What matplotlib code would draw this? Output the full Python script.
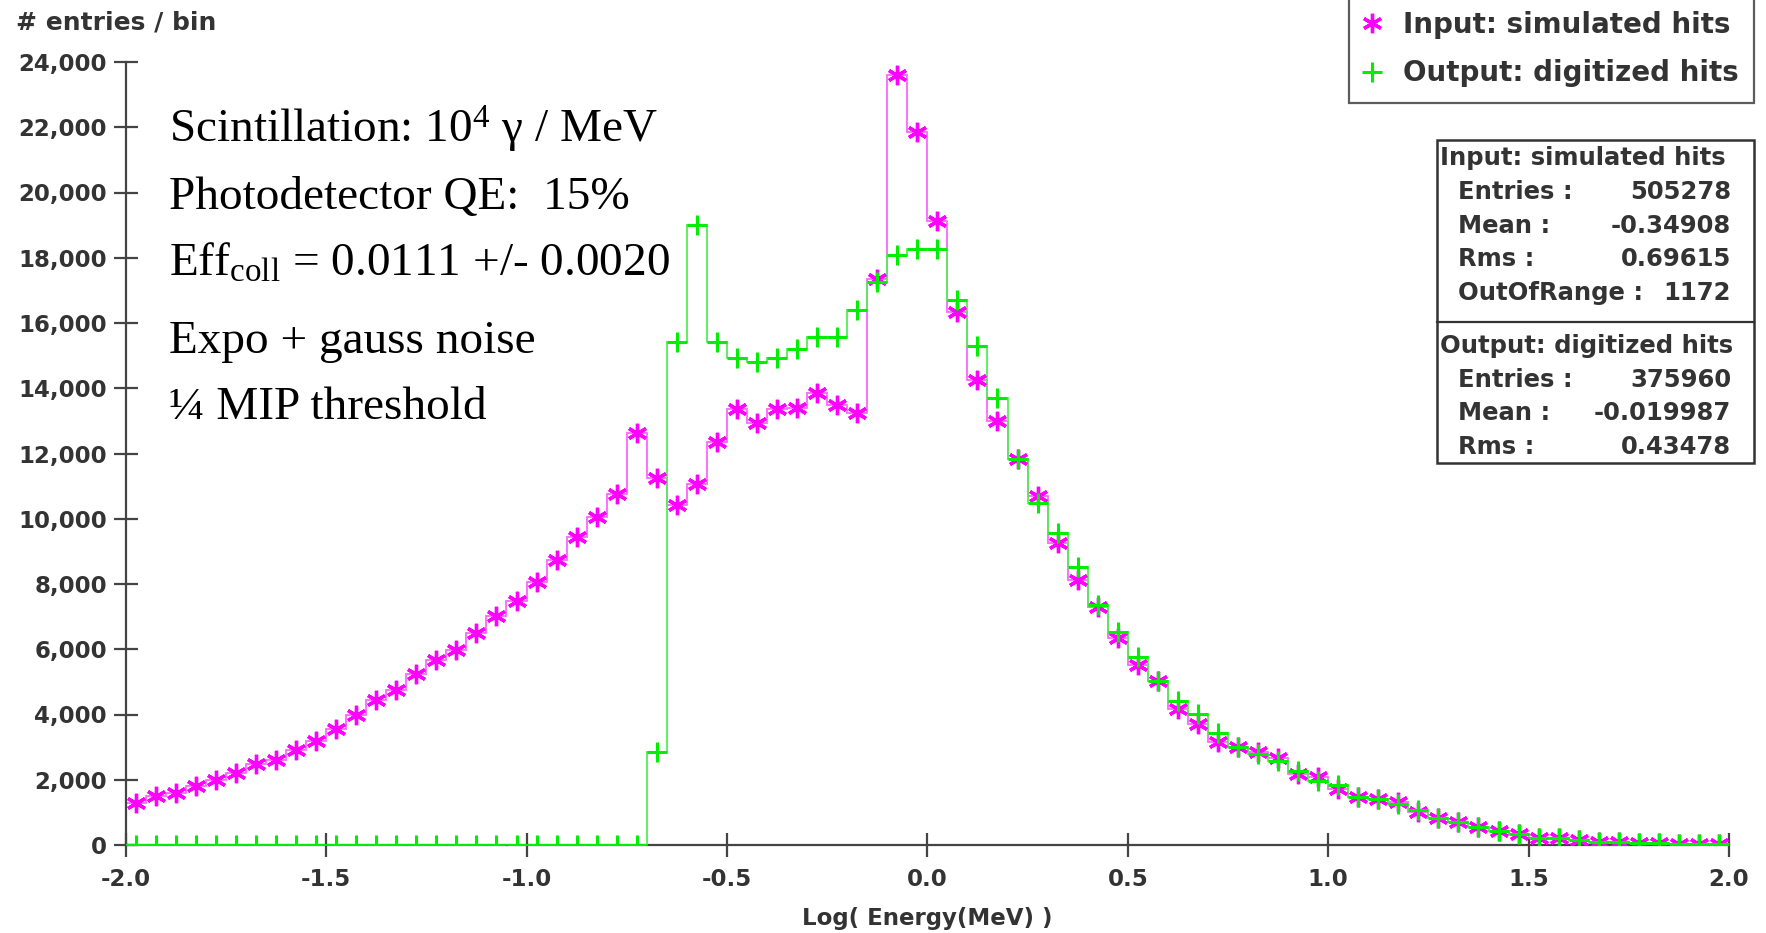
import matplotlib
matplotlib.use('Agg')
import matplotlib.pyplot as plt
from matplotlib.patches import Rectangle
import numpy as np

plt.rcParams['axes.unicode_minus'] = False
plt.rcParams['mathtext.fontset'] = 'custom'
plt.rcParams['mathtext.rm'] = 'Liberation Serif'
plt.rcParams['mathtext.it'] = 'Liberation Serif:italic'

# 80 bins of 0.05 in log10(E/MeV)
binEdges = np.linspace(-2.0, 2.0, 81)
binCenters = (binEdges[:-1] + binEdges[1:]) / 2

simulatedHits = [1300, 1500, 1600, 1800, 2000, 2220, 2480, 2620, 2900, 3200,
                 3550, 4000, 4450, 4760, 5250, 5680, 5970, 6500, 7020, 7480,
                 8050, 8740, 9440, 10050, 10770, 12640, 11250, 10410, 11050, 12360,
                 13350, 12920, 13350, 13400, 13850, 13480, 13250, 17350, 23590, 21850,
                 19130, 16330, 14250, 13000, 11820, 10690, 9250, 8120, 7300, 6360,
                 5510, 5030, 4170, 3710, 3150, 2990, 2840, 2660, 2180, 2090,
                 1720, 1480, 1400, 1330, 1000, 820, 720, 550, 430, 330,
                 220, 200, 140, 100, 80, 60, 50, 40, 30, 30]

digitizedHits = [0, 0, 0, 0, 0, 0, 0, 0, 0, 0,
                 0, 0, 0, 0, 0, 0, 0, 0, 0, 0,
                 0, 0, 0, 0, 0, 0, 2840, 15420, 18990, 15420,
                 14940, 14790, 14940, 15200, 15560, 15560, 16400, 17250, 18070, 18280,
                 18280, 16720, 15300, 13690, 11820, 10480, 9560, 8510, 7350, 6530,
                 5760, 5030, 4410, 4020, 3420, 2990, 2790, 2580, 2260, 1970,
                 1850, 1480, 1400, 1270, 1070, 820, 720, 550, 430, 330,
                 220, 200, 140, 100, 80, 60, 50, 40, 30, 30]

yTicks = [0, 2000, 4000, 6000, 8000, 10000, 12000, 14000, 16000, 18000, 20000, 22000, 24000]
yTickLabels = ['0', '2,000', '4,000', '6,000', '8,000', '10,000', '12,000', '14,000',
               '16,000', '18,000', '20,000', '22,000', '24,000']
xTicks = [-2.0, -1.5, -1.0, -0.5, 0.0, 0.5, 1.0, 1.5, 2.0]
xTickLabels = ['-2.0', '-1.5', '-1.0', '-0.5', '0.0', '0.5', '1.0', '1.5', '2.0']

statsInput = [('Entries :', '505278'), ('Mean :', '-0.34908'),
              ('Rms :', '0.69615'), ('OutOfRange :', '1172')]
statsOutput = [('Entries :', '375960'), ('Mean :', '-0.019987'), ('Rms :', '0.43478')]

noteLines = [r'Scintillation: 10$^{\mathrm{4}}$ γ / MeV',
             'Photodetector QE:  15%',
             r'Eff$_{\mathrm{coll}}$ = 0.0111 +/- 0.0020',
             'Expo + gauss noise',
             '¼ MIP threshold']
noteBaselines = [143, 209, 276, 353, 419]

W, H = 1766, 933
def px(x, y):
    return x / W, 1 - y / H

gray = '#333333'
axisGray = '#444444'
pink = '#ff00ff'
green = '#00ee00'

fig = plt.figure(figsize=(W / 100, H / 100), dpi=100)
ax = fig.add_axes([125.7 / W, 1 - 845 / H, (1729 - 125.7) / W, (845 - 62) / H])

ax.stairs(simulatedHits, binEdges, baseline=None, color='#ff66ff', lw=1.3, zorder=2)
ax.stairs(digitizedHits, binEdges, baseline=None, color='#55ee55', lw=1.3, zorder=3)
ax.plot(binCenters, simulatedHits, ls='none', marker=(6, 2, 0), ms=14, mew=2.4,
        color=pink, label='Input: simulated hits', zorder=4)
ax.plot(binCenters, digitizedHits, ls='none', marker='+', ms=14, mew=2.2,
        color=green, label='Output: digitized hits', zorder=5)

ax.set_xlim(-2.0, 2.0)
ax.set_ylim(0, 24000)
for s in ['top', 'right']:
    ax.spines[s].set_visible(False)
for s in ['left', 'bottom']:
    ax.spines[s].set_color(axisGray)
    ax.spines[s].set_linewidth(1.6)
ax.set_yticks(yTicks, yTickLabels, fontweight='bold', fontsize=16.5, color=gray)
ax.set_xticks(xTicks, xTickLabels, fontweight='bold', fontsize=16.5, color=gray)
ax.tick_params(axis='both', direction='inout', length=17, width=1.6, color=axisGray)
ax.tick_params(axis='y', pad=5)
ax.tick_params(axis='x', pad=8)

fig.text(*px(16, 22), '# entries / bin', fontsize=18, fontweight='bold', color=gray,
         ha='left', va='center')
fig.text(*px(927, 918), 'Log( Energy(MeV) )', fontsize=16.5, fontweight='bold', color=gray,
         ha='center', va='center')

for line, yb in zip(noteLines, noteBaselines):
    fig.text(*px(169, yb), line, fontsize=34, family='Liberation Serif', color='black',
             ha='left', va='baseline')

leg = ax.legend(loc='lower right', bbox_to_anchor=px(1754, 102.7), bbox_transform=fig.transFigure,
                prop={'weight': 'bold', 'size': 20}, frameon=True, fancybox=False,
                borderpad=0.55, labelspacing=0.75, handlelength=0.6, handletextpad=0.8,
                borderaxespad=0)
leg.get_frame().set_edgecolor(gray)
leg.get_frame().set_linewidth(1.6)
for t in leg.get_texts():
    t.set_color(gray)

# stats box
x0, x1, y0, y1, ydiv = 1437, 1754, 140, 463, 322
fig.add_artist(Rectangle(px(x0, y1), (x1 - x0) / W, (y1 - y0) / H, transform=fig.transFigure,
                         fill=False, edgecolor=gray, lw=1.8))
fig.add_artist(plt.Line2D([x0 / W, x1 / W], [1 - ydiv / H, 1 - ydiv / H],
                          transform=fig.transFigure, color=gray, lw=1.6))
statFont = dict(fontsize=17.5, fontweight='bold', color=gray, va='center')
fig.text(*px(1440, 158), 'Input: simulated hits', ha='left', **statFont)
for i, (lab, val) in enumerate(statsInput):
    y = 191.7 + i * 33.8
    fig.text(*px(1458, y), lab, ha='left', **statFont)
    fig.text(*px(1731, y), val, ha='right', **statFont)
fig.text(*px(1440, 345.7), 'Output: digitized hits', ha='left', **statFont)
for i, (lab, val) in enumerate(statsOutput):
    y = 380 + i * 33.4
    fig.text(*px(1458, y), lab, ha='left', **statFont)
    fig.text(*px(1731, y), val, ha='right', **statFont)

fig.savefig('out.png', dpi=100)
